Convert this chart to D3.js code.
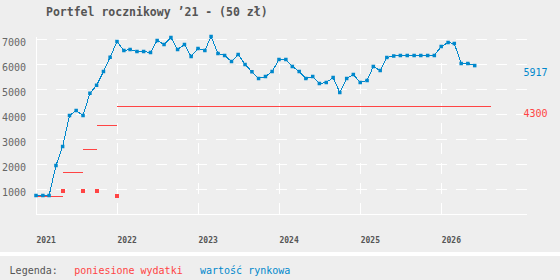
<!DOCTYPE html>
<html><head><meta charset="utf-8">
<script src="https://cdn.jsdelivr.net/npm/d3@7"></script>
<style>
html,body{margin:0;padding:0;background:#eeeeee;}
svg{display:block;font-family:"DejaVu Sans Mono",monospace;}
</style></head><body>
<svg id="c" width="560" height="280"></svg>
<script>
// ---- data ----
const title = "Portfel rocznikowy \u201921 - (50 z\u0142)";
const firstMonth = "2021-01-01";
const marketValues = [
  720, 720, 720, 1920, 2680, 3920, 4120, 3920, 4810, 5130, 5680, 6250,
  6880, 6520, 6560, 6480, 6480, 6440, 6920, 6760, 7040, 6560, 6760, 6280,
  6600, 6520, 7080, 6400, 6320, 6080, 6360, 5960, 5670, 5400, 5480, 5680,
  6160, 6160, 5880, 5680, 5400, 5480, 5200, 5240, 5440, 4840, 5400, 5560,
  5240, 5320, 5880, 5720, 6240, 6300, 6320, 6320, 6320, 6320, 6320, 6320,
  6680, 6840, 6800, 6000, 6000, 5917
];
const expenseDates = ["2021-01-01", "2021-05-01", "2021-08-01", "2021-10-01", "2022-01-01"];
const expenseLevels = [700, 1650, 2600, 3520, 4300];
const expenseEnd = "2026-08-12";
const purchaseDates = ["2021-05-01", "2021-08-01", "2021-10-01", "2022-01-01"];
const purchasePrices = [900, 920, 920, 720];
const yTicks = [1000, 2000, 3000, 4000, 5000, 6000, 7000];
const xTicks = ["2021-01-01", "2022-01-01", "2023-01-01", "2024-01-01", "2025-01-01", "2026-01-01"];
const xTickLabels = ["2021", "2022", "2023", "2024", "2025", "2026"];
const xDomain = ["2021-01-01", "2027-01-01"];
const legendTitle = "Legenda:";
const legendLabels = ["poniesione wydatki", "warto\u015b\u0107 rynkowa"];
const lastValueLabel = "5917";
const costLabel = "4300";

// ---- setup ----
const BLUE = "#0088cc", RED = "#ff4444", GRID = "#ffffff";
const parse = d3.utcParse("%Y-%m-%d");
const svg = d3.select("#c");
const left = 36, gridRight = 527;
const x = d3.scaleUtc().domain(xDomain.map(parse)).range([36, 522.2]);
const y = d3.scaleLinear().domain([0, 7000]).range([213.5, 38.5]);

const start = parse(firstMonth);
const market = marketValues.map((v, i) => ({ date: d3.utcMonth.offset(start, i), value: v }));

// title
svg.append("text").attr("x", 46).attr("y", 16)
  .attr("font-size", 11.5).attr("font-weight", "bold").attr("fill", "#555")
  .text(title);

// horizontal grid
const gridG = svg.append("g").attr("transform", `translate(${left},0)`)
  .call(d3.axisLeft(y).tickValues(yTicks).tickSize(-(gridRight - left)).tickFormat(""));
gridG.select(".domain").remove();
gridG.selectAll("line").attr("stroke", GRID).attr("stroke-width", 1)
  .attr("stroke-dasharray", "11,9").attr("shape-rendering", "crispEdges");

// y labels
const yLab = svg.append("g").attr("transform", `translate(${left},0)`)
  .call(d3.axisLeft(y).tickValues(yTicks).tickSize(0).tickPadding(10).tickFormat(d3.format("d")));
yLab.select(".domain").remove();
yLab.selectAll("text").attr("font-family", "DejaVu Sans Mono").attr("font-size", 10)
  .attr("fill", "#666").attr("dy", "0.74em");

// vertical grid
svg.append("g").selectAll("line").data(xTicks.slice(1)).join("line")
  .attr("x1", d => Math.round(x(parse(d))) + 0.5).attr("x2", d => Math.round(x(parse(d))) + 0.5)
  .attr("y1", y(6000) - 0.5).attr("y2", 217)
  .attr("stroke", GRID).attr("stroke-width", 1).attr("stroke-dasharray", "11,9")
  .attr("shape-rendering", "crispEdges");

// axes lines
svg.append("line").attr("x1", left + 0.5).attr("x2", left + 0.5).attr("y1", 37).attr("y2", 215)
  .attr("stroke", GRID).attr("shape-rendering", "crispEdges");
svg.append("line").attr("x1", left).attr("x2", gridRight).attr("y1", 214.5).attr("y2", 214.5)
  .attr("stroke", GRID).attr("shape-rendering", "crispEdges");

// x labels
const xAx = svg.append("g").attr("transform", "translate(0,243)")
  .call(d3.axisBottom(x).tickValues(xTicks.map(parse)).tickSize(0).tickPadding(0)
    .tickFormat((d, i) => xTickLabels[i]));
xAx.select(".domain").remove();
xAx.selectAll("text").attr("text-anchor", "start").attr("dy", 0)
  .attr("font-family", "DejaVu Sans Mono").attr("font-size", 8).attr("font-weight", "bold").attr("fill", "#555");

// expenses steps
const steps = expenseDates.map((d, i) => ({
  x0: parse(d), x1: parse(i + 1 < expenseDates.length ? expenseDates[i + 1] : expenseEnd), v: expenseLevels[i]
}));
svg.append("g").selectAll("line").data(steps).join("line")
  .attr("x1", d => x(d.x0)).attr("x2", d => x(d.x1))
  .attr("y1", d => Math.round(y(d.v)) + 0.5).attr("y2", d => Math.round(y(d.v)) + 0.5)
  .attr("stroke", RED).attr("stroke-width", 1).attr("shape-rendering", "crispEdges");

// purchase dots
svg.append("g").selectAll("rect").data(purchaseDates.map((d, i) => ({ date: parse(d), v: purchasePrices[i] })))
  .join("rect")
  .attr("x", d => Math.round(x(d.date)) - 2).attr("y", d => Math.round(y(d.v)) - 2)
  .attr("width", 4).attr("height", 4).attr("fill", RED).attr("shape-rendering", "crispEdges");

// market line
svg.append("path").datum(market)
  .attr("d", d3.line().x(d => x(d.date)).y(d => y(d.value)))
  .attr("fill", "none").attr("stroke", BLUE).attr("stroke-width", 1).attr("shape-rendering", "crispEdges");
svg.append("g").selectAll("rect").data(market).join("rect")
  .attr("x", d => x(d.date) - 1.75).attr("y", d => y(d.value) - 1.75)
  .attr("width", 3.5).attr("height", 3.5).attr("fill", BLUE);

// end labels
svg.append("text").attr("x", 523.5).attr("y", y(marketValues[marketValues.length - 1]) + 10.5)
  .attr("font-size", 10).attr("fill", BLUE).text(lastValueLabel);
svg.append("text").attr("x", 523.5).attr("y", y(expenseLevels[expenseLevels.length - 1]) + 10.5)
  .attr("font-size", 10).attr("fill", RED).text(costLabel);

// legend
svg.append("rect").attr("x", 0).attr("y", 252).attr("width", 560).attr("height", 4).attr("fill", "#ffffff");
svg.append("text").attr("x", 9.6).attr("y", 273.6).attr("font-size", 10).attr("fill", "#555").text(legendTitle);
const legX = [74.3, 200];
const legC = [RED, BLUE];
svg.append("g").selectAll("text").data(legendLabels).join("text")
  .attr("x", (d, i) => legX[i]).attr("y", 273.6).attr("font-size", 10)
  .attr("fill", (d, i) => legC[i]).text(d => d);
</script>
</body></html>
